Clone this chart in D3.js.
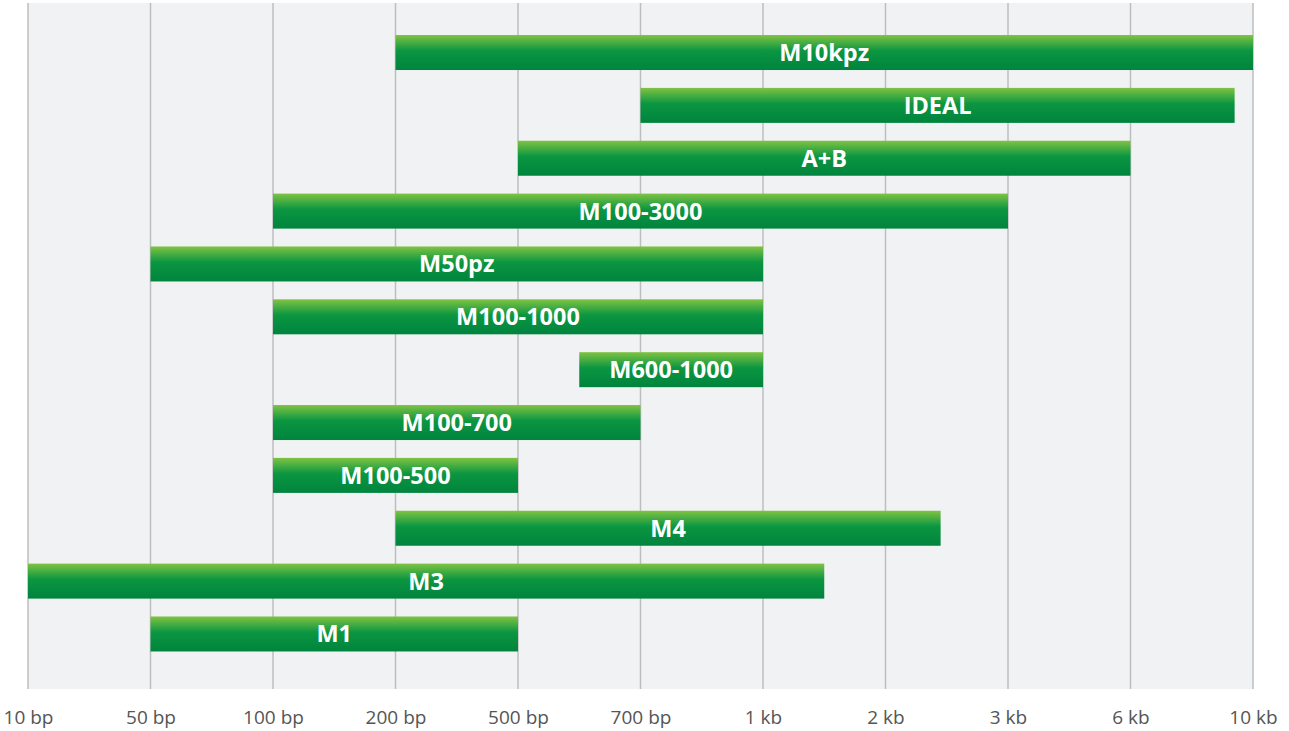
<!DOCTYPE html>
<html><head><meta charset="utf-8">
<script src="https://cdn.jsdelivr.net/npm/d3@7"></script>
<style>body{margin:0;background:#fff}svg{display:block}</style>
</head><body>
<svg id="chart" width="1289" height="731"></svg>
<script>
const tickValues = [10, 50, 100, 200, 500, 700, 1000, 2000, 3000, 6000, 10000];
const tickLabels = ["10 bp","50 bp","100 bp","200 bp","500 bp","700 bp","1 kb","2 kb","3 kb","6 kb","10 kb"];
const ladders = ["M10kpz","IDEAL","A+B","M100-3000","M50pz","M100-1000","M600-1000","M100-700","M100-500","M4","M3","M1"];
const rangeStart = [200, 700, 500, 100, 50, 100, 600, 100, 100, 200, 10, 50];
const rangeEnd   = [10000, 9400, 6000, 3000, 1000, 1000, 1000, 700, 500, 2450, 1500, 500];

const svg = d3.select("#chart");
const plotLeft = 28, plotRight = 1253, plotTop = 3, plotBottom = 689;

const positions = tickValues.map((d, i) => plotLeft + i * (plotRight - plotLeft) / (tickValues.length - 1));
const x = d3.scaleLinear().domain(tickValues).range(positions);
const y = d3.scaleBand().domain(ladders).range([26.1, 660.4]).padding(0);

const defs = svg.append("defs");
const grad = defs.append("linearGradient").attr("id","g").attr("x1",0).attr("y1",0).attr("x2",0).attr("y2",1);
grad.append("stop").attr("offset","0%").attr("stop-color","#7fc343");
grad.append("stop").attr("offset","45%").attr("stop-color","#0b9641");
grad.append("stop").attr("offset","100%").attr("stop-color","#00843e");

svg.append("rect").attr("x",plotLeft).attr("y",plotTop).attr("width",plotRight-plotLeft).attr("height",plotBottom-plotTop).attr("fill","#f1f2f4");

svg.append("g").selectAll("line").data(tickValues).join("line")
  .attr("x1", d => x(d)).attr("x2", d => x(d))
  .attr("y1", plotTop).attr("y2", plotBottom)
  .attr("stroke", "#bdbec0").attr("stroke-width", 1.5);

const bh = 35;
const rows = ladders.map((name, i) => ({name, s: rangeStart[i], e: rangeEnd[i]}));

svg.append("g").selectAll("rect").data(rows).join("rect")
  .attr("x", d => x(d.s)).attr("width", d => x(d.e) - x(d.s))
  .attr("y", d => y(d.name) + y.bandwidth()/2 - bh/2).attr("height", bh)
  .attr("fill", "url(#g)");

svg.append("g").selectAll("text").data(rows).join("text")
  .attr("x", d => (x(d.s) + x(d.e)) / 2)
  .attr("y", d => y(d.name) + y.bandwidth()/2 + 8.5)
  .attr("text-anchor","middle")
  .attr("fill","#fff")
  .attr("font-family","'Open Sans', 'Noto Sans', sans-serif")
  .attr("font-weight","bold")
  .attr("font-size","23.5px")
  .text(d => d.name);

const axis = d3.axisBottom(x).tickValues(tickValues).tickFormat((d, i) => tickLabels[i]).tickSize(0).tickPadding(0);
const ag = svg.append("g").attr("transform", `translate(0, ${plotBottom})`).call(axis);
ag.select(".domain").remove();
ag.selectAll("text")
  .attr("dy", null).attr("y", 35)
  .attr("fill","#555")
  .attr("font-family","'Open Sans', 'Noto Sans', sans-serif")
  .attr("font-size","19px");
</script>
</body></html>
